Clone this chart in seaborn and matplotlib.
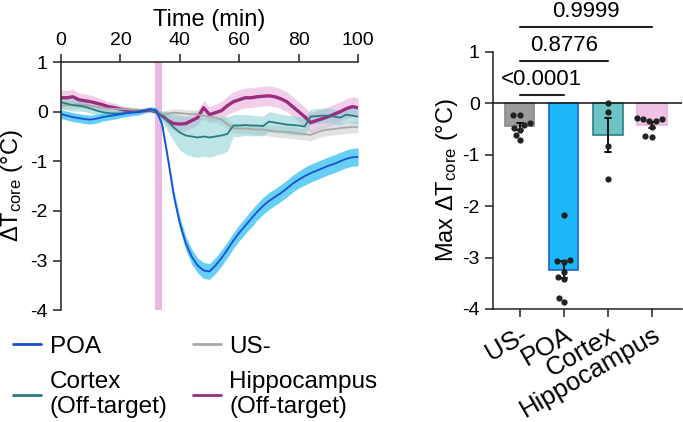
import numpy as np
import pandas as pd
import matplotlib
matplotlib.use("Agg")
import matplotlib.pyplot as plt
import seaborn as sns

# time course (min), mean and sem per group
time = list(range(0, 101, 2))

poa = [-0.05, -0.08, -0.11, -0.13, -0.15, -0.16, -0.14, -0.11, -0.09, -0.07,
       -0.05, -0.03, -0.02, -0.01, 0.02, 0.05, 0.03, -0.25, -0.95, -1.70,
       -2.25, -2.65, -2.92, -3.10, -3.20, -3.22, -3.10, -2.95, -2.78, -2.60,
       -2.44, -2.30, -2.16, -2.02, -1.90, -1.80, -1.72, -1.64, -1.55, -1.45,
       -1.37, -1.30, -1.24, -1.19, -1.14, -1.09, -1.05, -1.00, -0.95, -0.92, -0.91]
poa_sem = [0.09, 0.09, 0.09, 0.09, 0.09, 0.09, 0.09, 0.08, 0.08, 0.08,
           0.07, 0.07, 0.06, 0.06, 0.05, 0.05, 0.06, 0.08, 0.10, 0.12,
           0.13, 0.14, 0.15, 0.15, 0.16, 0.16, 0.16, 0.16, 0.16, 0.16,
           0.16, 0.16, 0.17, 0.17, 0.17, 0.17, 0.17, 0.17, 0.17, 0.17,
           0.17, 0.18, 0.18, 0.18, 0.18, 0.18, 0.18, 0.18, 0.18, 0.18, 0.18]

cortex = [0.19, 0.16, 0.13, 0.12, 0.10, 0.06, 0.02, -0.01, -0.03, -0.04,
          -0.04, -0.02, -0.01, 0.01, 0.03, 0.04, 0.00, -0.08, -0.20, -0.32,
          -0.42, -0.48, -0.50, -0.52, -0.50, -0.52, -0.50, -0.48, -0.45, -0.28,
          -0.28, -0.27, -0.28, -0.28, -0.29, -0.20, -0.22, -0.24, -0.26, -0.27,
          -0.28, -0.30, -0.10, -0.09, -0.08, -0.08, -0.10, -0.12, -0.06, -0.08, -0.10]
cortex_sem = [0.12, 0.12, 0.12, 0.11, 0.10, 0.09, 0.08, 0.08, 0.07, 0.06,
              0.06, 0.05, 0.05, 0.04, 0.03, 0.03, 0.05, 0.10, 0.20, 0.28,
              0.35, 0.38, 0.40, 0.40, 0.40, 0.40, 0.38, 0.37, 0.35, 0.22,
              0.22, 0.21, 0.21, 0.20, 0.20, 0.20, 0.20, 0.19, 0.19, 0.19,
              0.19, 0.18, 0.15, 0.15, 0.15, 0.15, 0.15, 0.15, 0.15, 0.15, 0.15]

us_neg = [0.12, 0.13, 0.14, 0.15, 0.14, 0.12, 0.10, 0.08, 0.06, 0.06,
          0.05, 0.05, 0.04, 0.04, 0.03, 0.03, 0.00, -0.05, -0.04, -0.02,
          -0.03, -0.04, -0.05, -0.06, -0.08, -0.10, -0.12, -0.16, -0.25, -0.33,
          -0.34, -0.34, -0.35, -0.36, -0.36, -0.38, -0.40, -0.40, -0.41, -0.42,
          -0.44, -0.45, -0.47, -0.42, -0.38, -0.36, -0.35, -0.33, -0.32, -0.31, -0.31]
us_neg_sem = [0.08, 0.08, 0.08, 0.08, 0.08, 0.07, 0.07, 0.07, 0.06, 0.06,
              0.05, 0.05, 0.05, 0.04, 0.04, 0.03, 0.04, 0.06, 0.07, 0.08,
              0.08, 0.08, 0.09, 0.09, 0.09, 0.10, 0.10, 0.10, 0.10, 0.10,
              0.10, 0.10, 0.10, 0.11, 0.11, 0.11, 0.11, 0.12, 0.12, 0.12,
              0.12, 0.12, 0.12, 0.12, 0.12, 0.12, 0.12, 0.12, 0.12, 0.12, 0.12]

hippo = [0.28, 0.28, 0.30, 0.24, 0.22, 0.20, 0.17, 0.14, 0.10, 0.08,
         0.05, 0.03, 0.02, 0.01, 0.02, 0.03, 0.00, -0.08, -0.18, -0.24,
         -0.25, -0.24, -0.18, -0.12, 0.08, -0.06, -0.02, 0.02, 0.12, 0.20,
         0.24, 0.28, 0.28, 0.30, 0.31, 0.32, 0.30, 0.26, 0.20, 0.10,
         0.00, -0.10, -0.22, -0.18, -0.14, -0.10, -0.05, 0.00, 0.06, 0.10, 0.08]
hippo_sem = [0.15, 0.15, 0.15, 0.14, 0.14, 0.13, 0.12, 0.11, 0.10, 0.09,
             0.08, 0.07, 0.06, 0.05, 0.04, 0.04, 0.05, 0.08, 0.12, 0.14,
             0.15, 0.15, 0.15, 0.15, 0.15, 0.16, 0.17, 0.18, 0.19, 0.20,
             0.20, 0.20, 0.20, 0.20, 0.20, 0.20, 0.20, 0.20, 0.20, 0.20,
             0.20, 0.20, 0.20, 0.20, 0.20, 0.20, 0.20, 0.20, 0.20, 0.20, 0.20]

# max delta T per animal
groups = ["US-", "POA", "Cortex", "Hippocampus"]
max_us = [-0.23, -0.23, -0.38, -0.42, -0.47, -0.52, -0.62, -0.72]
max_poa = [-2.17, -3.05, -3.07, -3.08, -3.28, -3.38, -3.42, -3.79, -3.86]
max_cortex = [0.01, -0.17, -0.82, -1.48]
max_hippo = [-0.28, -0.30, -0.30, -0.35, -0.35, -0.46, -0.64, -0.65]

pvals = ["<0.0001", "0.8776", "0.9999"]

sns.set_style("ticks")
plt.rcParams["font.family"] = ["Liberation Sans", "DejaVu Sans"]
plt.rcParams["mathtext.fontset"] = "custom"
plt.rcParams["mathtext.rm"] = "Liberation Sans"
plt.rcParams["mathtext.it"] = "Liberation Sans"
plt.rcParams["axes.unicode_minus"] = False
for key in ["text.color", "axes.labelcolor", "xtick.labelcolor", "ytick.labelcolor"]:
    plt.rcParams[key] = "black"

fig = plt.figure(figsize=(6.83, 4.22), dpi=100)

# ---- left: time course
ax = fig.add_axes([0.0893, 0.265, 0.435, 0.588])
ax.axvspan(31.5, 34.0, color="#ebb8df", lw=0, zorder=0.5)

series = [
    ("Hippocampus\n(Off-target)", hippo, hippo_sem, "#9b2c80", "#e7a6d8", 0.55, 2.4),
    ("US-", us_neg, us_neg_sem, "#a9a9a9", "#cfcfcf", 0.6, 1.3),
    ("Cortex\n(Off-target)", cortex, cortex_sem, "#2b7c82", "#7fcccc", 0.5, 1.3),
    ("POA", poa, poa_sem, "#1c4fd8", "#3ec4f4", 0.8, 1.3),
]
handles = {}
for name, m, s, lc, bc, a, lw in series:
    m = np.array(m)
    s = np.array(s)
    ax.fill_between(time, m - s, m + s, color=bc, alpha=a, lw=0)
    sns.lineplot(x=time, y=m, color=lc, lw=lw, ax=ax)
    handles[name] = plt.Line2D([], [], color=lc, lw=2)

ax.set_xlim(0, 100)
ax.set_ylim(-4, 1)
ax.set_xticks([0, 20, 40, 60, 80, 100])
ax.set_yticks([1, 0, -1, -2, -3, -4])
ax.xaxis.tick_top()
ax.xaxis.set_label_position("top")
ax.set_xlabel("Time (min)", fontsize=17, labelpad=4)
ax.set_ylabel(r"ΔT$_{\mathrm{core}}$ (°C)", fontsize=17, labelpad=4)
ax.tick_params(labelsize=14, length=6, width=1.1, color="#222222")
for sp in ["bottom", "right"]:
    ax.spines[sp].set_visible(False)
for sp in ["top", "left"]:
    ax.spines[sp].set_linewidth(1.1)
    ax.spines[sp].set_color("#222222")

order = ["POA", "Cortex\n(Off-target)", "US-", "Hippocampus\n(Off-target)"]
fig.legend([handles[k] for k in order], order, ncol=2, frameon=False,
           loc="upper left", bbox_to_anchor=(0.005, 0.228), fontsize=17.5,
           handlelength=1.15, handletextpad=0.35, columnspacing=1.05,
           labelspacing=0.55, borderaxespad=0)

# ---- right: max delta T bars
df = pd.DataFrame({
    "group": ["US-"] * len(max_us) + ["POA"] * len(max_poa)
             + ["Cortex"] * len(max_cortex) + ["Hippocampus"] * len(max_hippo),
    "value": max_us + max_poa + max_cortex + max_hippo,
})
fills = {"US-": "#9c9c9e", "POA": "#1ab8f8", "Cortex": "#6cc4c6", "Hippocampus": "#efc2e6"}
edges = ["#8a8a8a", "#1f5fd6", "#2b8088", "#e8b4dc"]

bx = fig.add_axes([0.7218, 0.2678, 0.2767, 0.609])
sns.barplot(data=df, x="group", y="value", hue="group", order=groups,
            palette=fills, saturation=1, legend=False, width=0.66, errorbar="se",
            capsize=0.15, err_kws={"color": "black", "linewidth": 1.3}, ax=bx)
for p, ec in zip(bx.patches, edges):
    p.set_edgecolor(ec)
    p.set_linewidth(1.2)
sns.swarmplot(data=df, x="group", y="value", order=groups, color="#222222",
              size=4.5, ax=bx)
bx.axhline(0, color="#222222", lw=1.2, zorder=5)
bx.set_xlim(-0.61, 3.68)
bx.set_ylim(-4, 1)
bx.set_yticks([1, 0, -1, -2, -3, -4])
bx.set_xlabel("")
bx.set_ylabel(r"Max ΔT$_{\mathrm{core}}$ (°C)", fontsize=17, labelpad=2)
bx.tick_params(axis="y", labelsize=14, length=6, width=1.1, color="#222222")
bx.tick_params(axis="x", labelsize=18.5, length=6, width=1.1, color="#222222")
plt.setp(bx.get_xticklabels(), rotation=30, ha="right", rotation_mode="anchor")
sns.despine(ax=bx)
for sp in ["bottom", "left"]:
    bx.spines[sp].set_linewidth(1.1)
    bx.spines[sp].set_color("#222222")

# significance brackets
for (end, y, txt) in zip([1, 2, 3], [0.16, 0.82, 1.48], pvals):
    bx.plot([0, end], [y, y], color="#222222", lw=1.5, clip_on=False)
    bx.text(end / 2, y + 0.1, txt, ha="center", va="bottom", fontsize=16,
            clip_on=False)

fig.savefig("out.png", dpi=100)
